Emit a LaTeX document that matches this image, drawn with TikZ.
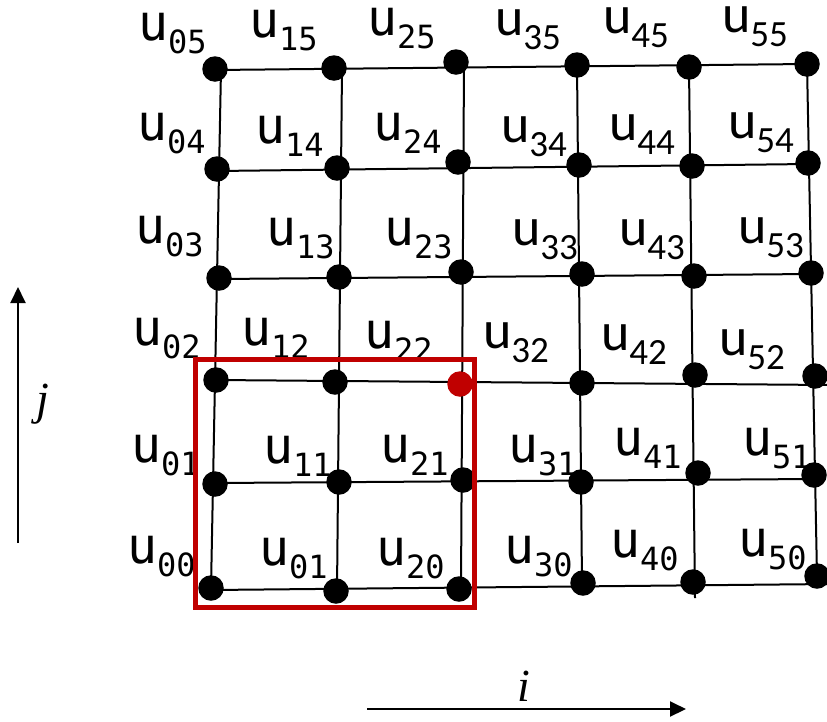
\documentclass[tikz,border=0pt]{standalone}
\usepackage{fontspec}
\usetikzlibrary{arrows.meta}
\newfontfamily\monof{DejaVu Sans Mono}
\newfontfamily\calf{Carlito}
\newfontfamily\axf{Liberation Serif}
\definecolor{redc}{HTML}{C00000}
\newcommand\labm[4]{\node[lab] (#1) at (#2,#3) {\monof\fontsize{50}{50}\selectfont u\raisebox{-13pt}{\fontsize{32}{32}\selectfont #4}};}
\newcommand\labc[4]{\node[lab] (#1) at (#2,#3) {\calf\fontsize{54}{54}\selectfont u\raisebox{-14.5pt}{\fontsize{37}{37}\selectfont #4}};}
\begin{document}
\begin{tikzpicture}[x=1pt,y=-1pt,
  dot/.style={circle,fill=black,minimum size=25.5pt,inner sep=0pt,outer sep=0pt},
  reddot/.style={dot,fill=redc},
  gridline/.style={line width=2pt,black},
  lab/.style={anchor=base west,inner sep=0pt,outer sep=0pt},
  redbox/.style={draw=redc,line width=4.5pt},
  axis/.style={line width=2pt,-{Triangle[length=16pt,width=15pt]}},
  axlab/.style={inner sep=0pt}]
\useasboundingbox (0,0) rectangle (827,721);
% grid line ends
\coordinate (r5a) at (215,70);  \coordinate (r5b) at (807,64);
\coordinate (r4a) at (217,171); \coordinate (r4b) at (808,164);
\coordinate (r3a) at (219,279); \coordinate (r3b) at (811,274);
\coordinate (r2a) at (216,380); \coordinate (r2b) at (830,385);
\coordinate (r1a) at (215,483); \coordinate (r1b) at (814,479);
\coordinate (r0a) at (211,590); \coordinate (r0b) at (830,584);
\coordinate (c0a) at (221,69);  \coordinate (c0b) at (211,588);
\coordinate (c1a) at (342,68);  \coordinate (c1b) at (337,591);
\coordinate (c2a) at (464,62);  \coordinate (c2b) at (461,589);
\coordinate (c3a) at (577,65);  \coordinate (c3b) at (582,583);
\coordinate (c4a) at (689,67);  \coordinate (c4b) at (695,598);
\coordinate (c5a) at (807,64);  \coordinate (c5b) at (817,576);
% grid lines
\foreach \k in {0,...,5}{
  \draw[gridline] (r\k a) -- (r\k b);
  \draw[gridline] (c\k a) -- (c\k b);
}
% dots
\node[dot] (d05) at (215,69) {};
\node[dot] (d15) at (334,68) {};
\node[dot] (d25) at (456,62) {};
\node[dot] (d35) at (577,65) {};
\node[dot] (d45) at (689,67) {};
\node[dot] (d55) at (807,64) {};
\node[dot] (d04) at (217,169) {};
\node[dot] (d14) at (337,168) {};
\node[dot] (d24) at (458,162) {};
\node[dot] (d34) at (579,165) {};
\node[dot] (d44) at (692,166) {};
\node[dot] (d54) at (808,163) {};
\node[dot] (d03) at (219,278) {};
\node[dot] (d13) at (339,277) {};
\node[dot] (d23) at (461,272) {};
\node[dot] (d33) at (582,274) {};
\node[dot] (d43) at (694,276) {};
\node[dot] (d53) at (811,273) {};
\node[dot] (d02) at (216,380) {};
\node[dot] (d12) at (335,382) {};
\node[reddot] (d22) at (460,384) {};
\node[dot] (d32) at (582,383) {};
\node[dot] (d42) at (695,375) {};
\node[dot] (d52) at (815,376) {};
\node[dot] (d01) at (215,484) {};
\node[dot] (d11) at (339,482) {};
\node[dot] (d21) at (463,480) {};
\node[dot] (d31) at (581,482) {};
\node[dot] (d41) at (698,473) {};
\node[dot] (d51) at (814,475) {};
\node[dot] (d00) at (211,588) {};
\node[dot] (d10) at (336,591) {};
\node[dot] (d20) at (459,589) {};
\node[dot] (d30) at (583,583) {};
\node[dot] (d40) at (693,582) {};
\node[dot] (d50) at (817,576) {};
% labels
\labm{l05}{138}{40}{05}
\labm{l15}{249}{37}{15}
\labm{l25}{367}{35}{25}
\labm{l04}{137}{140}{04}
\labm{l14}{255}{143}{14}
\labm{l24}{373}{140}{24}
\labm{l03}{135}{243}{03}
\labm{l13}{266}{245}{13}
\labm{l23}{384}{245}{23}
\labm{l02}{132}{345}{02}
\labm{l12}{241}{345}{12}
\labm{l22}{364}{348}{22}
\labm{l01}{131}{462}{01}
\labm{l11}{263}{463}{11}
\labm{l21}{380}{462}{21}
\labm{l00}{127}{563}{00}
\labm{l10}{259}{565}{01}
\labm{l20}{376}{565}{20}
\labm{l31}{508}{462}{31}
\labm{l41}{613}{455}{41}
\labm{l51}{742}{455}{51}
\labm{l30}{504}{563}{30}
\labm{l40}{610}{557}{40}
\labm{l50}{738}{556}{50}
\labc{l35}{495}{35}{35}
\labc{l45}{603}{33}{45}
\labc{l55}{722}{32}{55}
\labc{l34}{501}{142}{34}
\labc{l44}{609}{140}{44}
\labc{l54}{728}{138}{54}
\labc{l33}{512}{245}{33}
\labc{l43}{619}{245}{43}
\labc{l53}{738}{243}{53}
\labc{l32}{483}{348}{32}
\labc{l42}{601}{350}{42}
\labc{l52}{719}{355}{52}
% red box
\draw[redbox] (195.5,359.5) rectangle (474.5,607.5);
% axes
\coordinate (ja) at (18,543);
\coordinate (jb) at (18,287);
\draw[axis] (ja) -- (jb);
\node[axlab] (jl) at (43,404) {\axf\itshape\fontsize{46}{46}\selectfont j};
\coordinate (ia) at (367,709);
\coordinate (ib) at (686,709);
\draw[axis] (ia) -- (ib);
\node[axlab] (il) at (524,686) {\axf\itshape\fontsize{46}{46}\selectfont i};
\end{tikzpicture}
\end{document}
